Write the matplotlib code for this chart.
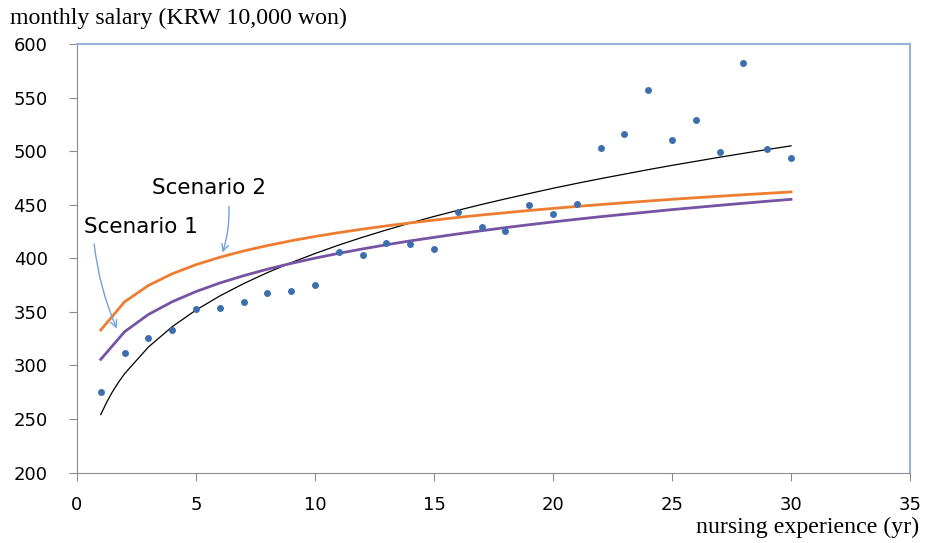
import numpy as np
import matplotlib.pyplot as plt

# experience (yr) and observed monthly salary
years = [1, 2, 3, 4, 5, 6, 7, 8, 9, 10, 11, 12, 13, 14, 15,
         16, 17, 18, 19, 20, 21, 22, 23, 24, 25, 26, 27, 28, 29, 30]
salary = [275, 312, 326, 333, 353, 354, 359, 368, 369, 375, 406, 403, 414, 413, 409,
          443, 429, 425, 450, 441, 451, 503, 516, 557, 510, 529, 499, 582, 502, 494]

# scenario curves (read at each year)
scenario1 = [305.6, 331.4, 347.5, 359.4, 368.9, 376.9, 383.7, 389.8, 395.2, 400.1,
             404.6, 408.7, 412.6, 416.2, 419.5, 422.7, 425.7, 428.6, 431.3, 433.9,
             436.4, 438.8, 441.0, 443.2, 445.4, 447.4, 449.4, 451.3, 453.2, 455.0]
scenario2 = [333.0, 359.3, 374.6, 385.5, 394.0, 400.9, 406.8, 411.8, 416.3, 420.3,
             423.9, 427.2, 430.2, 433.0, 435.6, 438.1, 440.4, 442.5, 444.6, 446.5,
             448.4, 450.1, 451.8, 453.4, 455.0, 456.5, 457.9, 459.3, 460.6, 461.9]

# trend line of observed data
trend_x = [1, 1.25, 1.5, 1.75, 2, 3, 4, 5, 6, 7, 8, 9, 10, 11, 12, 13, 14, 15,
           16, 17, 18, 19, 20, 21, 22, 23, 24, 25, 26, 27, 28, 29, 30]
trend_y = [254.0, 265.7, 275.7, 284.4, 292.2, 317.1, 336.1, 351.6, 364.8, 376.3,
           386.6, 395.9, 404.4, 412.3, 419.6, 426.4, 432.9, 439.0, 444.7, 450.2,
           455.4, 460.4, 465.3, 469.9, 474.3, 478.5, 482.7, 486.7, 490.5, 494.3,
           497.9, 501.5, 504.9]

fig = plt.figure(figsize=(9.25, 5.43), dpi=100)
ax = fig.add_axes([0.0832, 0.1298, 0.9006, 0.7892])

ax.plot(trend_x, trend_y, color='black', lw=0.9, zorder=2)
ax.plot(years, scenario2, color='#ED7D31', lw=2.0, zorder=3)
ax.plot(years, scenario1, color='#7554A3', lw=2.0, zorder=3)
ax.plot(years, salary, 'o', color='#3D6EAE', markersize=5, markeredgewidth=0, zorder=4)

ax.set_xlim(0, 35)
ax.set_ylim(200, 600)
ax.set_xticks(range(0, 36, 5))
ax.set_yticks(range(200, 601, 50))

for s in ['left', 'bottom']:
    ax.spines[s].set_color('#8C8C8C')
for s in ['top', 'right']:
    ax.spines[s].set_color('#95B3D7')
    ax.spines[s].set_linewidth(1.5)
ax.tick_params(direction='out', length=6, color='#8C8C8C', labelsize=13)
ax.tick_params(axis='y', pad=15)
ax.tick_params(axis='x', pad=11)

arrow = dict(arrowstyle='->', color='#6FA3DA', lw=1.0, mutation_scale=12)
ax.text(0.29, 429, 'Scenario 1', fontsize=15.5, va='center')
ax.text(3.15, 466, 'Scenario 2', fontsize=15.5, va='center')
ax.annotate('', xy=(1.72, 332), xytext=(0.71, 416),
            arrowprops=dict(connectionstyle='arc3,rad=0.08', **arrow))
ax.annotate('', xy=(6.08, 403), xytext=(6.38, 451),
            arrowprops=dict(connectionstyle='arc3,rad=-0.1', **arrow))

fig.text(10 / 925, 1 - 18 / 543, 'monthly salary (KRW 10,000 won)',
         family='Liberation Serif', fontsize=17.2, va='center', ha='left')
fig.text(919 / 925, 1 - 527 / 543, 'nursing experience (yr)',
         family='Liberation Serif', fontsize=17.2, va='center', ha='right')

fig.savefig('out.png', dpi=100)
